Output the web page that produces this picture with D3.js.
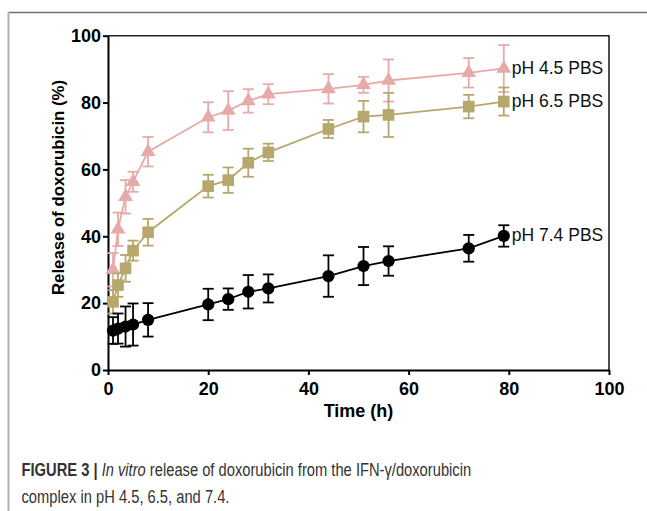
<!DOCTYPE html>
<html>
<head>
<meta charset="utf-8">
<script src="https://cdn.jsdelivr.net/npm/d3@7"></script>
<style>
  body { margin: 0; background: #fff; }
  svg { display: block; }
</style>
</head>
<body>
<div id="chart"></div>
<script>
"use strict";

// sampling times (h)
var hours = [1, 2, 3.5, 5, 8, 20, 24, 28, 32, 44, 51, 56, 72, 79];

// release (%) and error (+/-) per pH
var ph45 = [30, 42.1, 51.8, 56.3, 65.3, 75.6, 77.6, 80.5, 82.5, 84.1, 85.3, 86.6, 88.9, 90.2];
var ph45Err = [5, 5, 5, 3, 4.4, 4.5, 5.8, 3.5, 3, 4.4, 2.4, 6.3, 4.4, 7];
var ph65 = [20.4, 25.4, 30.4, 35.7, 41.2, 55, 56.8, 62, 65.1, 72.1, 75.8, 76.3, 78.8, 80.3];
var ph65Err = [3.5, 3.5, 4, 3, 4, 3.4, 3.8, 4.2, 2.6, 2.7, 4.7, 6.6, 3.5, 4.2];
var ph74 = [11.8, 12.4, 13, 13.6, 15, 19.6, 21.2, 23.4, 24.4, 28.1, 31.1, 32.6, 36.4, 40.1];
var ph74Err = [4, 4.5, 6, 6.3, 5, 4.7, 3.2, 5, 4.2, 6.2, 5.7, 4.4, 4, 3.2];

var seriesNames = ["pH 4.5 PBS", "pH 6.5 PBS", "pH 7.4 PBS"];
var xTicks = [0, 20, 40, 60, 80, 100];
var yTicks = [0, 20, 40, 60, 80, 100];

var series = [
  {name: seriesNames[0], values: ph45, err: ph45Err, color: "#e8aaa8", symbol: d3.symbolTriangle, size: 95},
  {name: seriesNames[1], values: ph65, err: ph65Err, color: "#b6a86c", symbol: d3.symbolSquare, size: 135},
  {name: seriesNames[2], values: ph74, err: ph74Err, color: "#000000", symbol: d3.symbolCircle, size: 118}
];

var width = 647, height = 511;
var font = "'Liberation Sans', Arial, Helvetica, sans-serif";

var svg = d3.select("#chart").append("svg")
  .attr("width", width)
  .attr("height", height);

// page frame
svg.append("line")
  .attr("x1", 8).attr("x2", width).attr("y1", 12.5).attr("y2", 12.5)
  .attr("stroke", "#6f6f6f").attr("stroke-width", 1.5);
svg.append("line")
  .attr("x1", 8.5).attr("x2", 8.5).attr("y1", 12).attr("y2", height)
  .attr("stroke", "#b0b0b0").attr("stroke-width", 2);

var x = d3.scaleLinear().domain([0, 100]).range([108, 609]);
var y = d3.scaleLinear().domain([0, 100]).range([370, 35.7]);

// box top / right
svg.append("path")
  .attr("d", "M" + x(0) + "," + y(100) + "H" + x(100) + "V" + y(0))
  .attr("fill", "none")
  .attr("stroke", "#222")
  .attr("stroke-width", 1.6);

var xAxis = svg.append("g")
  .attr("transform", "translate(0," + y(0) + ")")
  .call(d3.axisBottom(x).tickValues(xTicks).tickSize(5).tickSizeOuter(0).tickPadding(7));

var yAxis = svg.append("g")
  .attr("transform", "translate(" + x(0) + ",0)")
  .call(d3.axisLeft(y).tickValues(yTicks).tickSize(5).tickSizeOuter(0).tickPadding(2));

[xAxis, yAxis].forEach(function(g) {
  g.select(".domain").attr("stroke", "#000").attr("stroke-width", 2);
  g.selectAll(".tick line").attr("stroke", "#000").attr("stroke-width", 2);
  g.selectAll(".tick text")
    .attr("fill", "#000")
    .style("font-family", font)
    .style("font-size", "18px")
    .style("font-weight", "bold");
});

// axis titles
svg.append("text")
  .attr("x", x(50))
  .attr("y", 417)
  .attr("text-anchor", "middle")
  .style("font-family", font)
  .style("font-size", "18px")
  .style("font-weight", "bold")
  .text("Time (h)");

svg.append("text")
  .attr("transform", "translate(64," + 187.5 + ") rotate(-90)")
  .attr("text-anchor", "middle")
  .attr("textLength", 215)
  .attr("lengthAdjust", "spacingAndGlyphs")
  .style("font-family", font)
  .style("font-size", "17px")
  .style("font-weight", "bold")
  .text("Release of doxorubicin (%)");

var line = d3.line()
  .x(function(d) { return x(d.t); })
  .y(function(d) { return y(d.v); });

series.forEach(function(s) {
  var pts = hours.map(function(t, i) {
    return {t: t, v: s.values[i], e: s.err[i]};
  });

  var g = svg.append("g").attr("class", "series");

  // error bars
  var eb = g.selectAll("g.err")
    .data(pts)
    .enter()
    .append("g")
    .attr("class", "err")
    .attr("stroke", s.color)
    .attr("stroke-width", 1.8);

  eb.append("line")
    .attr("x1", function(d) { return x(d.t); })
    .attr("x2", function(d) { return x(d.t); })
    .attr("y1", function(d) { return y(d.v + d.e); })
    .attr("y2", function(d) { return y(d.v - d.e); });
  eb.append("line")
    .attr("x1", function(d) { return x(d.t) - 5.5; })
    .attr("x2", function(d) { return x(d.t) + 5.5; })
    .attr("y1", function(d) { return y(d.v + d.e); })
    .attr("y2", function(d) { return y(d.v + d.e); });
  eb.append("line")
    .attr("x1", function(d) { return x(d.t) - 5.5; })
    .attr("x2", function(d) { return x(d.t) + 5.5; })
    .attr("y1", function(d) { return y(d.v - d.e); })
    .attr("y2", function(d) { return y(d.v - d.e); });

  g.append("path")
    .datum(pts)
    .attr("d", line)
    .attr("fill", "none")
    .attr("stroke", s.color)
    .attr("stroke-width", 1.8);

  g.selectAll("path.mark")
    .data(pts)
    .enter()
    .append("path")
    .attr("class", "mark")
    .attr("d", d3.symbol().type(s.symbol).size(s.size))
    .attr("transform", function(d) {
      return "translate(" + x(d.t) + "," + y(d.v) + ")";
    })
    .attr("fill", s.color);

  var last = pts[pts.length - 1];
  g.append("text")
    .attr("x", x(last.t) + 8)
    .attr("y", y(last.v) - 1)
    .attr("dy", "0.35em")
    .attr("fill", "#111")
    .style("font-family", font)
    .style("font-size", "17.5px")
    .text(s.name);
});

// caption, squeezed horizontally to the condensed width of the original
var capFont = "'Liberation Sans Narrow', 'Arial Narrow', 'Liberation Sans', Arial, sans-serif";

function captionLine(yPos, targetWidth, build) {
  var g = svg.append("g");
  var t = g.append("text")
    .attr("x", 0)
    .attr("y", 0)
    .attr("fill", "#333")
    .style("font-family", capFont)
    .style("font-size", "18.5px");
  build(t);
  var len = t.node().getComputedTextLength();
  g.attr("transform", "translate(21.5," + yPos + ") scale(" + (targetWidth / len) + ",1)");
}

captionLine(476, 450, function(t) {
  t.append("tspan").style("font-weight", "bold").text("FIGURE 3 | ");
  t.append("tspan").style("font-style", "italic").text("In vitro");
  t.append("tspan").text(" release of doxorubicin from the IFN-\u03b3/doxorubicin");
});

captionLine(503, 208, function(t) {
  t.text("complex in pH 4.5, 6.5, and 7.4.");
});
</script>
</body>
</html>
